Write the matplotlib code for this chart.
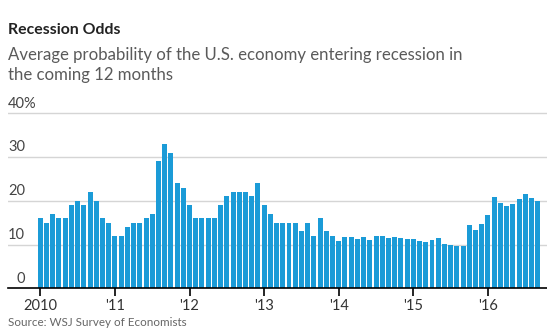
import numpy as np
import matplotlib.pyplot as plt

# Monthly average recession probability (%), Jan 2010 - Sep 2016
odds_2010 = [16, 15, 17, 16, 16, 19, 20, 19, 22, 20, 16, 15]
odds_2011 = [12, 12, 14, 15, 15, 16, 17, 29, 33, 31, 24, 23]
odds_2012 = [19, 16, 16, 16, 16, 19, 21, 22, 22, 22, 21, 24]
odds_2013 = [19, 17, 15, 15, 15, 15, 13, 15, 12, 16, 13, 12]
odds_2014 = [10.8, 11.8, 11.8, 11.3, 11.8, 11.1, 12.0, 12.0, 11.5, 11.8, 11.5, 11.3]
odds_2015 = [11.3, 10.8, 10.6, 11.1, 11.5, 10.2, 9.9, 9.7, 9.7, 14.5, 13.4, 14.7]
odds_2016 = [16.8, 20.9, 19.5, 18.9, 19.3, 20.5, 21.6, 20.7, 20.0]

odds = odds_2010 + odds_2011 + odds_2012 + odds_2013 + odds_2014 + odds_2015 + odds_2016
year_labels = ["2010", "'11", "'12", "'13", "'14", "'15", "'16"]
y_ticks = [0, 10, 20, 30, 40]

plt.rcParams['font.family'] = ['Lato', 'DejaVu Sans']

W, H = 547, 333
fig = plt.figure(figsize=(W / 100, H / 100), dpi=100)

ax = fig.add_axes([8 / W, (H - 288.3) / H, 1 - 8 / W, 41 * 4.375 / H])
months = np.arange(len(odds))
ax.bar(months, odds, width=0.8, color='#1b9bd7', zorder=2)

ax.set_xlim(-5.2, 81.5)
ax.set_ylim(0, 41)

# horizontal gridlines with labels sitting above them
for v in y_ticks[1:]:
    ax.axhline(v, color='#d5d5d5', linewidth=1, zorder=1)
for v in y_ticks:
    if v == 40:
        ax.text(0.0, v + 0.6, f"{v}%", transform=ax.get_yaxis_transform(),
                ha='left', va='bottom', fontsize=10.5, color='#444444')
    else:
        ax.text(17 / (W - 8), v + 0.6, str(v), transform=ax.get_yaxis_transform(),
                ha='right', va='bottom', fontsize=10.5, color='#444444')

ax.set_yticks([])
ax.set_xticks(np.arange(0, len(odds), 12))
ax.set_xticklabels(year_labels, fontsize=10.5, color='#333333')
ax.tick_params(axis='x', direction='out', length=6, width=1.2, color='black', pad=2)
for side in ['top', 'right', 'left']:
    ax.spines[side].set_visible(False)
ax.spines['bottom'].set_linewidth(1.2)
ax.spines['bottom'].set_zorder(3)

fig.text(8 / W, 1 - 34 / H, "Recession Odds", fontsize=11.4, fontweight='bold',
         color='#222222', ha='left', va='baseline')
fig.text(8 / W, 1 - 60 / H, "Average probability of the U.S. economy entering recession in",
         fontsize=12.1, color='#5a5a5a', ha='left', va='baseline')
fig.text(8 / W, 1 - 80 / H, "the coming 12 months",
         fontsize=12.1, color='#5a5a5a', ha='left', va='baseline')
fig.text(8 / W, 1 - 325.7 / H, "Source: WSJ Survey of Economists",
         fontsize=8.4, color='#666666', ha='left', va='baseline')

fig.savefig('out.png', dpi=100)
